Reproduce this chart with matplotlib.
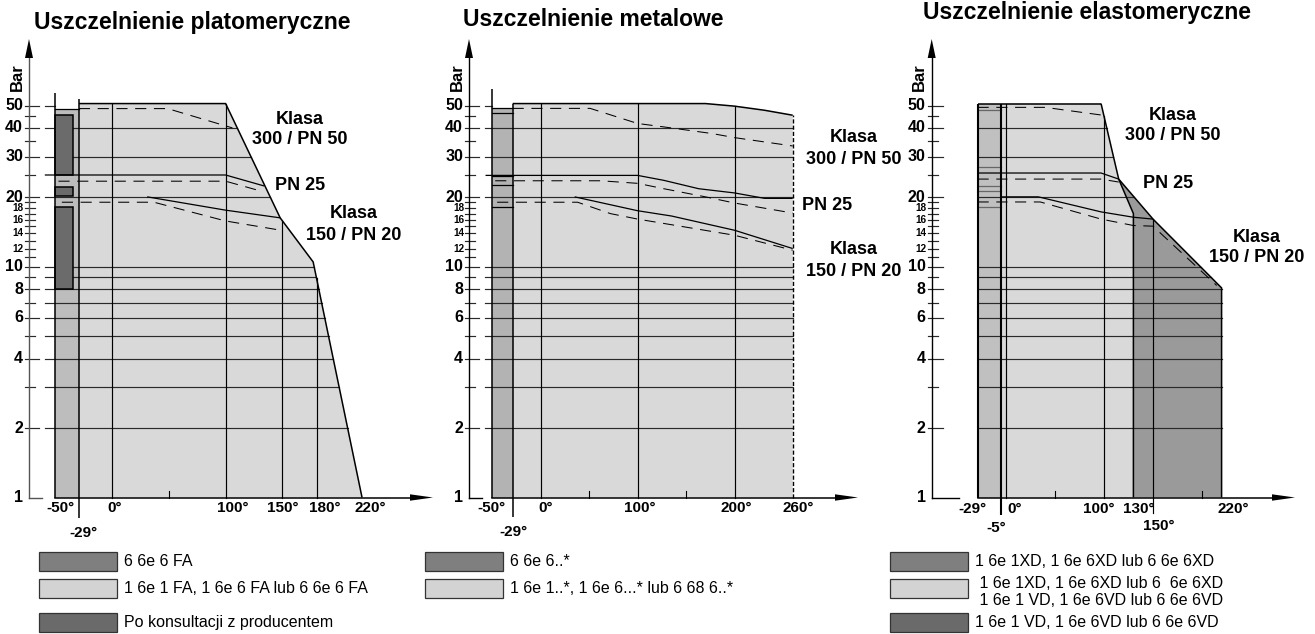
import numpy as np
import matplotlib
matplotlib.use("Agg")
import matplotlib.pyplot as plt

plt.rcParams['font.family'] = ['Liberation Sans', 'DejaVu Sans']
plt.rcParams['lines.scale_dashes'] = False

W, H = 1315, 634

# ------------------------------------------------------------------ data
titles = ["Uszczelnienie platomeryczne", "Uszczelnienie metalowe",
          "Uszczelnienie elastomeryczne"]
y_major = [1, 2, 4, 6, 8, 10, 20, 30, 40, 50]
y_small = [12, 14, 16, 18]
y_minor = [3, 5, 7, 9, 11, 12, 13, 14, 15, 16, 17, 18, 19, 25, 35, 45]
grid_levels = [2, 3, 4, 5, 6, 7, 8, 9, 10, 20, 30, 40]

# panel 1 - platomeryczne
p1_bound_T = [-29, 100, 148, 177, 220]
p1_bound_P = [51, 51, 16.3, 10.5, 1]
p1_strip_T = [-50, -29]
p1_strip_top = 48.5
p1_box_T = [-50, -34]
p1_box_lo = [24.9, 20.2, 8.0]
p1_box_hi = [45.7, 22.1, 18.2]
p1_c300d_T = [-29, 49, 106]
p1_c300d_P = [48.5, 48.5, 40]
p1_pn25_T = [-59, 100, 134]
p1_pn25_P = [25, 25, 22.4]
p1_pn25d_T = [-47, 100, 128]
p1_pn25d_P = [23.5, 23.5, 21.5]
p1_c150_T = [31, 100, 148]
p1_c150_P = [20.1, 17.6, 16.3]
p1_c150d_T = [-44, 37, 100, 145]
p1_c150d_P = [19.05, 19.05, 15.8, 14.5]
p1_vlines = [0, 100, 150, 180]
p1_xminor = [50]
p1_xlab = [-50, 0, 100, 150, 180, 220]
p1_xlab_low = [-29]

# panel 2 - metalowe
p2_bound_T = [-29, 170, 200, 231, 260, 260]
p2_bound_P = [51, 51, 49.7, 47.7, 45.4, 1]
p2_strip_T = [-50, -29]
p2_strip_top = 48.8
p2_strip_lines = [46.3, 24.8, 22.6, 18.1]
p2_c300d_T = [-29, 51, 100, 127, 177, 200, 260]
p2_c300d_P = [48.6, 48.6, 41.8, 40.4, 37.8, 36.3, 33.4]
p2_pn25_T = [-57, 100, 127, 163, 200, 231, 260]
p2_pn25_P = [24.9, 24.9, 23.7, 21.8, 20.9, 19.8, 19.8]
p2_pn25d_T = [-47, 62, 100, 127, 170, 200, 260]
p2_pn25d_P = [23.6, 23.6, 23.0, 21.8, 20.1, 18.9, 17.1]
p2_c150_T = [35, 100, 135, 200, 260]
p2_c150_P = [20.1, 17.5, 16.6, 14.4, 12.0]
p2_c150d_T = [-45, 38, 72, 100, 200, 260]
p2_c150d_P = [19.05, 19.05, 17.0, 16.1, 13.7, 11.8]
p2_vlines = [0, 100, 200]
p2_xminor = [50, 150]
p2_xlab = [-50, 0, 100, 200, 260]
p2_xlab_low = [-29]

# panel 3 - elastomeryczne
p3_strip_T = [-29, -5]
p3_strip_top = 51
p3_strip_lines = [47.8, 27.2, 22.3, 21.3, 18.2]
p3_light_T = [-5, 97, 115, 130, 130]
p3_light_P = [51, 51, 24.0, 17.0, 1]
p3_dark_T = [115, 150, 220, 220, 130, 130]
p3_dark_P = [24.0, 16.1, 8.1, 1, 1, 17.0]
p3_bound_T = [-29, 97, 115, 150, 220, 220]
p3_bound_P = [51, 51, 24.0, 16.1, 8.1, 1]
p3_c300d_T = [-29, 40, 97]
p3_c300d_P = [49.1, 49.1, 45.5]
p3_pn25_T = [-29, 97, 115]
p3_pn25_P = [25.5, 25.5, 24.0]
p3_pn25d_T = [-29, 97, 115]
p3_pn25d_P = [24.0, 24.0, 23.3]
p3_c150_T = [-5, 33, 97, 130, 150]
p3_c150_P = [20.1, 20.1, 17.3, 16.4, 16.1]
p3_c150d_T = [-29, 35, 97, 130, 150, 215]
p3_c150d_P = [19.1, 19.1, 16.1, 15.1, 15.0, 8.3]
p3_vlines = [0, 100, 150]
p3_xminor = [50, 200]
p3_xlab = [-29, 0, 100, 130, 220]
p3_xlab_low = [-5, 150]

legend1 = [("#7f7f7f", "6 6e 6 FA"),
           ("#d3d3d3", "1 6e 1 FA, 1 6e 6 FA lub 6 6e 6 FA"),
           ("#6a6a6a", "Po konsultacji z producentem")]
legend2 = [("#7f7f7f", "6 6e 6..*"),
           ("#d3d3d3", "1 6e 1..*, 1 6e 6...* lub 6 68 6..*")]
legend3 = [("#7f7f7f", "1 6e 1XD, 1 6e 6XD lub 6 6e 6XD"),
           ("#d3d3d3", " 1 6e 1XD, 1 6e 6XD lub 6  6e 6XD\n 1 6e 1 VD, 1 6e 6VD lub 6 6e 6VD"),
           ("#6a6a6a", "1 6e 1 VD, 1 6e 6VD lub 6 6e 6VD")]

# ------------------------------------------------------------------ styling
C_LIGHT = "#d9d9d9"
C_GRID = "#2a2a2a"
Y1 = 497.5      # pixel row of 1 bar
DEC = 230.7     # pixels per decade
LW_EDGE = 1.1
LW_GRID = 0.85
LW_DASH = 0.75
DASH = (8.0, 5.5)
FS_TICK = 11.5
FS_XTICK = 11
FS_SMALL = 7.2
FS_CLASS = 13
FS_TITLE = 16.5
FS_LEG = 11.5

fig = plt.figure(figsize=(W / 100, H / 100), dpi=100)


def P_at(py):
    return 10 ** ((Y1 - py) / DEC)


class Panel:
    def __init__(self, px_left, px_right, px0, sx, x_axis_px):
        self.px0, self.sx = px0, sx
        self.ax = fig.add_axes([px_left / W, 0, (px_right - px_left) / W, 1])
        self.ax.set_xlim((px_left - px0) / sx, (px_right - px0) / sx)
        self.ax.set_yscale('log')
        self.ax.set_ylim(P_at(H), P_at(0))
        self.ax.axis('off')
        self.Tax = (x_axis_px - px0) / sx

    def T(self, px):
        return (px - self.px0) / self.sx

    def dT(self, dpx):
        return dpx / self.sx

    def line(self, T, P, **kw):
        kw.setdefault('color', 'black')
        kw.setdefault('lw', LW_EDGE)
        kw.setdefault('solid_capstyle', 'butt')
        self.ax.plot(T, P, **kw)

    def dashed(self, T, P, z=5):
        self.ax.plot(T, P, color='black', lw=LW_DASH, dashes=DASH, zorder=z)

    def axes_frame(self, axis_color, x_start_T, arrow_px,
                   corner_len=13, tick_right=10):
        ax = self.ax
        ta = self.Tax
        tip = P_at(39)
        base = P_at(58)
        ax.plot([ta, ta], [1, base], color=axis_color, lw=1.0, zorder=6)
        ax.fill([ta - self.dT(4), ta + self.dT(4), ta], [base, base, tip],
                color='black', lw=0, zorder=6)
        ax.plot([ta, ta + self.dT(corner_len)], [1, 1], color=axis_color, lw=1.0)
        for v in y_major[1:]:
            ax.plot([ta - self.dT(4), ta + self.dT(tick_right)], [v, v],
                    color=C_GRID, lw=LW_GRID)
        for v in y_minor:
            ax.plot([ta - self.dT(4), ta + self.dT(6)], [v, v],
                    color=C_GRID, lw=LW_GRID)
        for v in y_major:
            ax.text(ta - self.dT(6), v, str(v), ha='right', va='center',
                    fontsize=FS_TICK, fontweight='bold')
        for v in y_small:
            ax.text(ta - self.dT(5), v, str(v), ha='right', va='center',
                    fontsize=FS_SMALL, fontweight='bold')
        ax.text(ta - self.dT(12), P_at(77), "Bar", rotation=90, ha='center',
                va='center', fontsize=12, fontweight='bold')
        # x axis
        xe = self.T(arrow_px)
        ax.plot([x_start_T, xe - self.dT(20)], [1, 1], color='black', lw=1.1, zorder=6)
        f = 10 ** (3.2 / DEC)
        ax.fill([xe - self.dT(23), xe - self.dT(23), xe], [1 / f, 1 * f, 1],
                color='black', lw=0, zorder=6)

    def xlabels(self, vals, offs, row_px):
        for v, dx, r in zip(vals, offs, row_px):
            self.ax.text(v + self.dT(dx), P_at(r), f"{v}°", ha='center',
                         va='center', fontsize=FS_XTICK, fontweight='bold')

    def xminor(self, vals):
        for v in vals:
            self.ax.plot([v, v], [1, P_at(Y1 - 7)], color='black', lw=0.8)

    def grid(self, start_T, bT, bP, levels, z=2):
        lb = np.log10(bP)[::-1]
        tb = np.array(bT)[::-1]
        for v in levels:
            te = np.interp(np.log10(v), lb, tb)
            self.ax.plot([start_T, te], [v, v], color=C_GRID, lw=LW_GRID, zorder=z)

    def vgrid(self, vals, bT, bP, low=1, z=2):
        for v in vals:
            top = 10 ** np.interp(v, bT, np.log10(bP))
            self.ax.plot([v, v], [low, top], color='black', lw=LW_GRID, zorder=z)

    def label(self, px, py, s):
        self.ax.text(self.T(px), P_at(py), s, ha='center', va='center',
                     fontsize=FS_CLASS, fontweight='bold')


def legend(x0, items, text_dx=7, row_tops=(552, 579, 613)):
    for (c, s), yt in zip(items, row_tops):
        r = plt.Rectangle((x0 / W, 1 - (yt + 18.5) / H), 78 / W, 18.5 / H,
                          transform=fig.transFigure, facecolor=c,
                          edgecolor='#333333', lw=0.9)
        fig.add_artist(r)
        if "\n" in s:
            fig.text((x0 + 78 + text_dx) / W, 1 - (yt + 13) / H, s, ha='left',
                     va='center', fontsize=FS_LEG, linespacing=1.2)
        else:
            fig.text((x0 + 78 + text_dx) / W, 1 - (yt + 9.5) / H, s, ha='left',
                     va='center', fontsize=FS_LEG)


def title(px, py, s):
    fig.text(px / W, 1 - py / H, s, ha='left', va='center', fontsize=FS_TITLE,
             fontweight='bold')


# ------------------------------------------------------------------ panel 1
p = Panel(0, 440, 111.9, 1.137, 29)
ax = p.ax
ax.fill([-29] + p1_bound_T, [1] + p1_bound_P, color=C_LIGHT, lw=0, zorder=1)
ax.fill([p1_strip_T[0], p1_strip_T[1], p1_strip_T[1], p1_strip_T[0]],
        [1, 1, p1_strip_top, p1_strip_top], color="#bdbdbd", lw=0, zorder=1)
gs1 = p.T(45)
p.grid(gs1, p1_bound_T, p1_bound_P, grid_levels)
ax.plot([gs1, -50], [50, 50], color=C_GRID, lw=LW_GRID)
p.vgrid(p1_vlines, p1_bound_T, p1_bound_P)
for lo, hi in zip(p1_box_lo, p1_box_hi):
    ax.fill([p1_box_T[0], p1_box_T[1], p1_box_T[1], p1_box_T[0]],
            [lo, lo, hi, hi], facecolor="#6b6b6b", edgecolor='black',
            lw=1.1, zorder=3)
ax.plot(p1_strip_T, [p1_strip_top] * 2, color='black', lw=0.9, zorder=3)
p.line([-50, -50], [1, P_at(93)], zorder=4)
p.line([-29, -29], [P_at(518), P_at(99)], zorder=4)
p.line(p1_bound_T, p1_bound_P, zorder=4)
p.dashed(p1_c300d_T, p1_c300d_P)
p.line(p1_pn25_T, p1_pn25_P, lw=0.9, zorder=4)
p.dashed(p1_pn25d_T, p1_pn25d_P)
p.line(p1_c150_T, p1_c150_P, lw=0.9, zorder=4)
p.dashed(p1_c150d_T, p1_c150d_P)
p.axes_frame("#555555", -50, 433)
p.xminor(p1_xminor)
p.xlabels(p1_xlab + p1_xlab_low, [5, 3, 7, 0, 8, 8, 5],
          [508] * len(p1_xlab) + [533])
p.label(300, 119, "Klasa")
p.label(300, 140, "300 / PN 50")
p.label(300, 185, "PN 25")
p.label(354, 213, "Klasa")
p.label(354, 235, "150 / PN 20")

# ------------------------------------------------------------------ panel 2
p = Panel(440, 900, 540.75, 0.969, 469)
ax = p.ax
ax.fill([-29] + p2_bound_T, [1] + p2_bound_P, color=C_LIGHT, lw=0, zorder=1)
ax.fill([p2_strip_T[0], p2_strip_T[1], p2_strip_T[1], p2_strip_T[0]],
        [1, 1, p2_strip_top, p2_strip_top], color="#b3b3b3", lw=0, zorder=1)
gs2 = p.T(485)
p.grid(gs2, p2_bound_T, p2_bound_P, grid_levels)
ax.plot([gs2, -50], [50, 50], color=C_GRID, lw=LW_GRID)
p.vgrid(p2_vlines, p2_bound_T, p2_bound_P)
for v in p2_strip_lines + [p2_strip_top]:
    ax.plot(p2_strip_T, [v, v], color='black', lw=0.9, zorder=3)
p.line([-50, -50], [1, P_at(89)], zorder=4)
p.line([-29, -29], [P_at(517), p2_bound_P[0]], zorder=4)
p.line(p2_bound_T[:-1], p2_bound_P[:-1], zorder=4)
ax.plot([260, 260], [1, p2_bound_P[-2]], color='black', lw=1.0,
        dashes=(3, 1.5), zorder=4)
p.dashed(p2_c300d_T, p2_c300d_P)
p.line(p2_pn25_T, p2_pn25_P, lw=0.9, zorder=4)
p.dashed(p2_pn25d_T, p2_pn25d_P)
p.line(p2_c150_T, p2_c150_P, lw=0.9, zorder=4)
p.dashed(p2_c150d_T, p2_c150d_P)
p.axes_frame("black", -50, 858)
p.xminor(p2_xminor)
p.xlabels(p2_xlab + p2_xlab_low, [-1, 5, 2, 2, 5, 1],
          [508] * len(p2_xlab) + [532])
p.label(854, 138, "Klasa")
p.label(854, 160, "300 / PN 50")
p.label(827, 205, "PN 25")
p.label(854, 250, "Klasa")
p.label(854, 271, "150 / PN 20")

# ------------------------------------------------------------------ panel 3
p = Panel(900, 1315, 1006.0, 0.98, 931.7)
ax = p.ax
ax.fill(p3_light_T + [-5], p3_light_P + [1], color=C_LIGHT, lw=0, zorder=1)
ax.fill(p3_dark_T, p3_dark_P, color="#9a9a9a", lw=0, zorder=1)
ax.fill([p3_strip_T[0], p3_strip_T[1], p3_strip_T[1], p3_strip_T[0]],
        [1, 1, p3_strip_top, p3_strip_top], color="#c0c0c0", lw=0, zorder=1)
p.grid(-29, p3_bound_T, p3_bound_P, grid_levels)
for v in p3_strip_lines:
    ax.plot(p3_strip_T, [v, v], color='#666666', lw=0.9, zorder=2)
p.vgrid(p3_vlines[:2], p3_bound_T, p3_bound_P)
p.vgrid(p3_vlines[2:], p3_bound_T, p3_bound_P, low=P_at(513))
p.line([-29, -29], [1, p3_strip_top], lw=1.5, zorder=4)
p.line([-5, -5], [P_at(515), p3_strip_top], lw=1.5, zorder=4)
p.line([-29, p3_light_T[1]], [p3_strip_top] * 2, zorder=4)
p.line(p3_light_T[1:], p3_light_P[1:], zorder=4)
p.line(p3_dark_T[:4], p3_dark_P[:4], zorder=4)
p.dashed(p3_c300d_T, p3_c300d_P)
p.line(p3_pn25_T, p3_pn25_P, lw=0.9, zorder=4)
p.dashed(p3_pn25d_T, p3_pn25d_P)
p.line(p3_c150_T, p3_c150_P, lw=0.9, zorder=4)
p.dashed(p3_c150d_T, p3_c150d_P)
p.axes_frame("black", -29, 1295, corner_len=27, tick_right=11)
p.xminor(p3_xminor)
p.xlabels(p3_xlab + p3_xlab_low, [-5, 9, -5, 5, 12, -5, 6],
          [509] * len(p3_xlab) + [528, 526])
p.label(1173, 115, "Klasa")
p.label(1173, 136, "300 / PN 50")
p.label(1168, 184, "PN 25")
p.label(1257, 238, "Klasa")
p.label(1257, 258, "150 / PN 20")

# ------------------------------------------------------------------ titles & legends
title(34, 22, titles[0])
title(463, 20, titles[1])
title(923, 12, titles[2])
legend(39, legend1)
legend(425, legend2)
legend(890, legend3)

fig.savefig("out.png", dpi=100)
